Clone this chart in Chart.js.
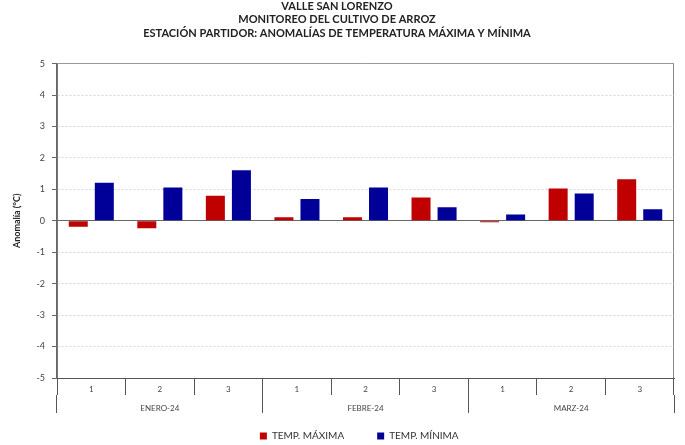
<!DOCTYPE html>
<html lang="es">
<head>
  <meta charset="UTF-8">
  <title>Anomalías de temperatura - Estación Partidor</title>
  <script src="https://cdn.jsdelivr.net/npm/chart.js"></script>
  <style>
    html, body { margin: 0; padding: 0; background: #fff; }
  </style>
</head>
<body>
  <canvas id="myChart" width="685" height="445"></canvas>

  <script>
    // decades inside each month, and the months below them
    const decadas = ['1', '2', '3', '1', '2', '3', '1', '2', '3'];
    const meses = ['ENERO-24', 'FEBRE-24', 'MARZ-24'];

    // anomalies (°C)
    const tempMaxima = [-0.19, -0.24, 0.80, 0.11, 0.11, 0.74, -0.05, 1.03, 1.32];
    const tempMinima = [1.21, 1.06, 1.61, 0.69, 1.06, 0.43, 0.20, 0.87, 0.37];

    const yTicks = [-5, -4, -3, -2, -1, 0, 1, 2, 3, 4, 5];

    const FONT = 'Lato, "Open Sans", sans-serif';
    const ctx = document.getElementById('myChart').getContext('2d');

    new Chart(ctx, {
      type: 'bar',
      data: {
        labels: decadas,
        datasets: [
          {
            label: 'TEMP. MÁXIMA',
            data: tempMaxima,
            backgroundColor: '#c00000',
            borderWidth: 0,
            categoryPercentage: 0.76,
            barPercentage: 0.73
          },
          {
            label: 'TEMP. MÍNIMA',
            data: tempMinima,
            backgroundColor: '#000099',
            borderWidth: 0,
            categoryPercentage: 0.76,
            barPercentage: 0.73
          }
        ]
      },
      options: {
        responsive: false,
        animation: false,
        layout: { padding: { left: 0, right: 11, top: 0, bottom: 0 } },
        plugins: {
          tooltip: { enabled: false },
          title: {
            display: true,
            text: [
              'VALLE SAN LORENZO',
              'MONITOREO DEL CULTIVO DE ARROZ',
              'ESTACIÓN PARTIDOR: ANOMALÍAS DE TEMPERATURA MÁXIMA Y MÍNIMA'
            ],
            color: '#222',
            font: { family: FONT, size: 11, weight: 'bold', lineHeight: 1.2 },
            padding: { top: 0, bottom: 24 }
          },
          legend: {
            position: 'bottom',
            fullSize: false,
            maxHeight: 32,
            labels: {
              color: '#333',
              font: { family: FONT, size: 10 },
              boxWidth: 7,
              boxHeight: 7,
              padding: 18,
              generateLabels: (chart) => {
                const items = Chart.defaults.plugins.legend.labels.generateLabels(chart);
                items[0].text += '\u2003\u2003';
                items[1].text += '\u2003\u2002';
                return items;
              }
            }
          }
        },
        scales: {
          x: {
            position: 'bottom',
            offset: true,
            grid: {
              offset: true,
              drawOnChartArea: true,
              color: (c) => (c.index === 0 || !c.tick) ? '#888' : 'rgba(0,0,0,0)',
              tickColor: '#555',
              tickLength: 17
            },
            border: { color: '#555', width: 1 },
            ticks: {
              color: '#444',
              font: { family: FONT, size: 8 },
              padding: -10,
              maxRotation: 0
            },
            afterFit: (s) => { s.height = 17; }
          },
          mes: {
            type: 'category',
            position: 'bottom',
            labels: meses,
            offset: true,
            grid: {
              offset: true,
              drawOnChartArea: false,
              tickColor: '#555',
              tickLength: 18
            },
            border: { display: false },
            ticks: {
              color: '#444',
              font: { family: FONT, size: 8 },
              padding: -9,
              maxRotation: 0
            },
            afterFit: (s) => { s.height = 18; }
          },
          y: {
            min: -5,
            max: 5,
            afterBuildTicks: (s) => { s.ticks = yTicks.map(v => ({ value: v })); },
            ticks: {
              color: '#444',
              font: { family: FONT, size: 9 },
              padding: 7
            },
            grid: {
              color: (c) => c.tick && c.tick.value === 0 ? '#666'
                : (c.tick && c.tick.value === 5 ? '#999' : '#d6d6d6'),
              tickColor: '#666',
              tickLength: 5
            },
            border: {
              color: '#666',
              width: 1.5,
              dash: (c) => (c.tick && (c.tick.value === 0 || c.tick.value === 5)) ? [] : [2, 2]
            },
            title: {
              display: true,
              text: 'Anomalía (°C)',
              color: '#222',
              font: { family: FONT, size: 9, weight: 'bold' },
              padding: { top: 12, bottom: 0 }
            },
            afterFit: (s) => { s.width = 57; }
          }
        }
      }
    });
  </script>
</body>
</html>
